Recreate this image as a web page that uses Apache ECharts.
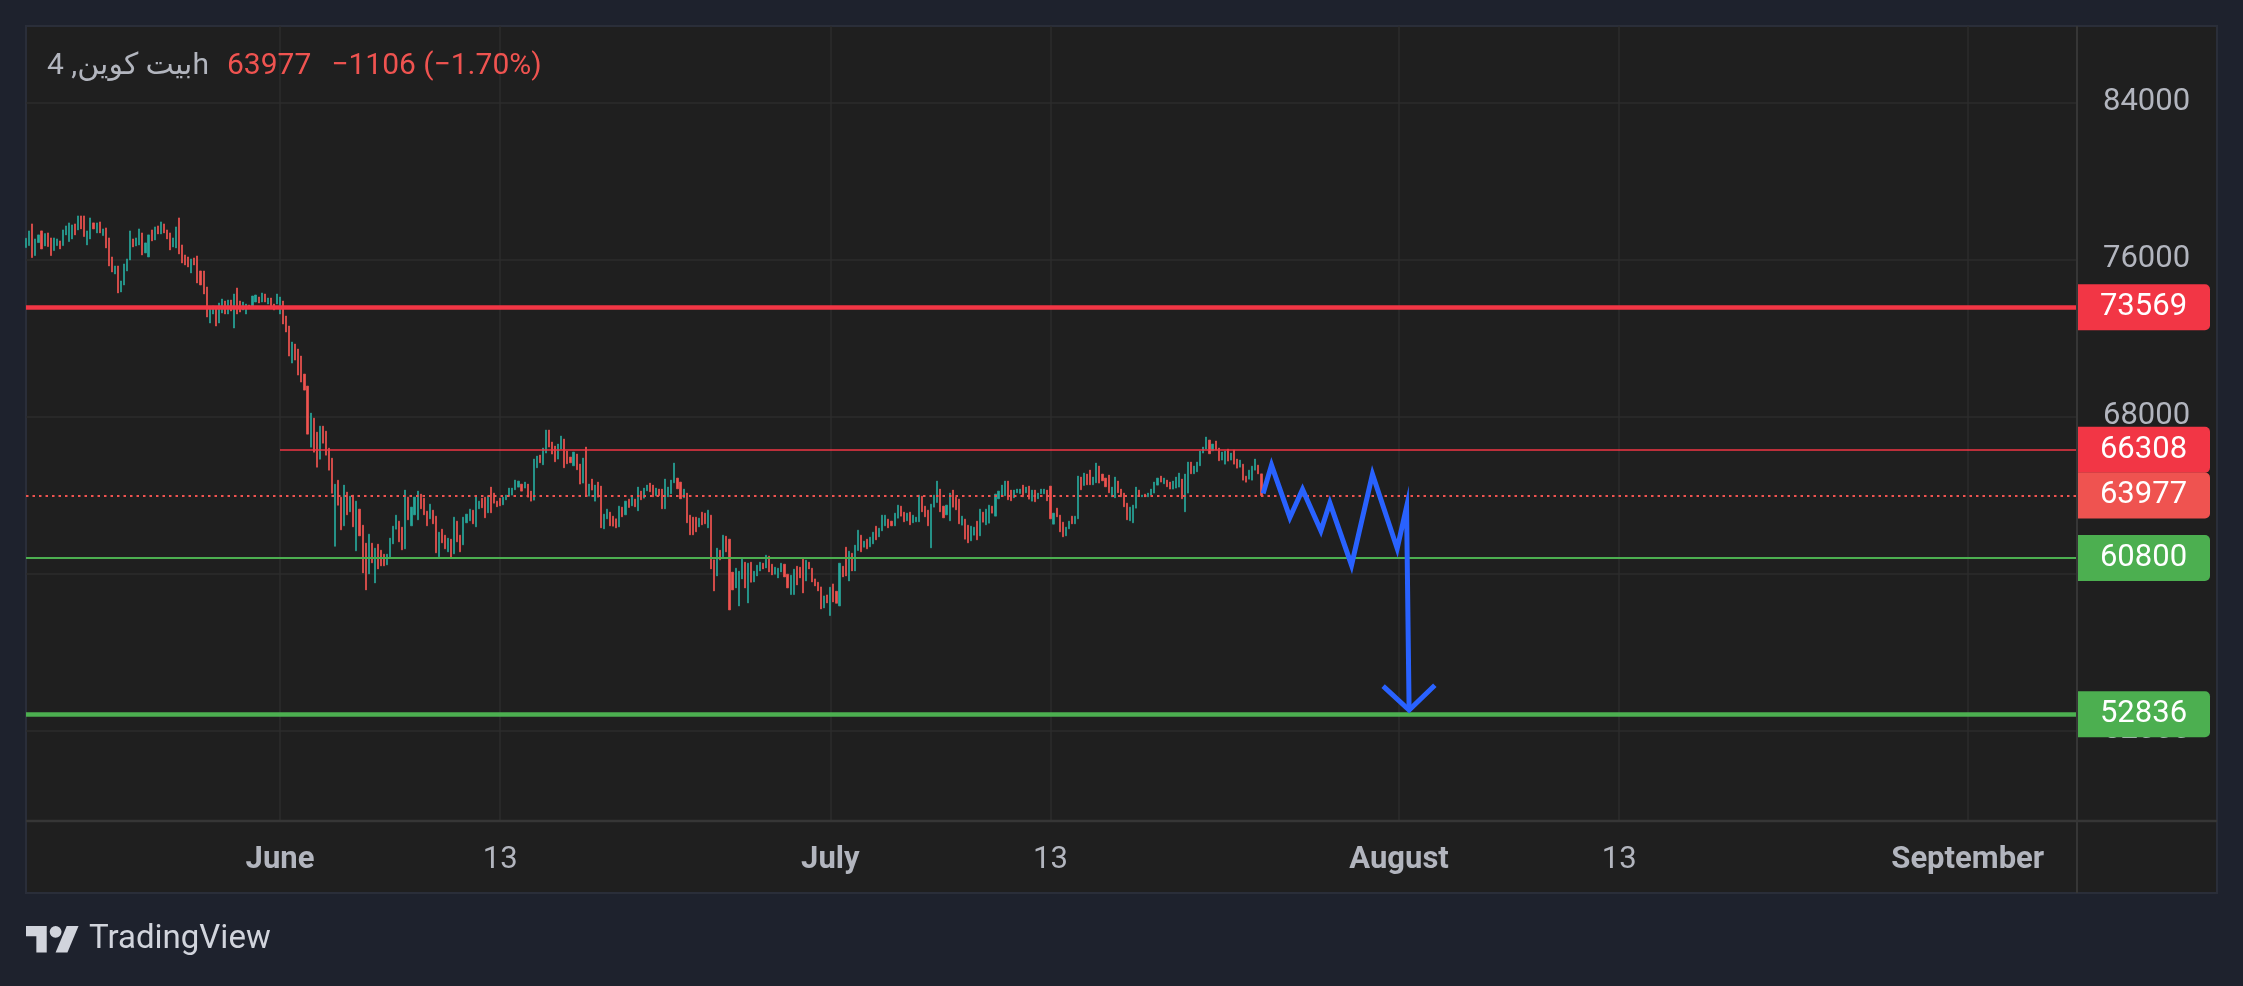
<!DOCTYPE html>
<html><head><meta charset="utf-8">
<script src="https://cdn.jsdelivr.net/npm/echarts@6/dist/echarts.min.js"></script>
<style>html,body{margin:0;padding:0;background:#1e222d;overflow:hidden}#c{width:2243px;height:986px}</style>
</head><body><div id="c"></div>
<script>
// ---------- DATA ----------
const candleStart = '2024-05-18T04:00:00Z';   // first 4h candle
const candleHours = 4;
const opens = [
76609,76711,77816,76201,76864,77459,76694,77357,77102,76456,
76711,76949,76711,77255,76915,77051,77816,77510,78224,78224,
76745,77051,77867,77357,77918,77221,77612,77102,76133,75266,
75674,74348,74705,75419,75980,77051,76694,76745,77357,76337,
76133,77510,77000,77714,77306,77816,77510,77357,76643,76592,
78122,76745,76235,76133,75317,76082,76184,75419,75419,74603,
72767,73226,73583,72767,73277,73889,73226,73940,72512,74552,
73889,73430,73226,73685,73583,73838,74093,73838,74246,73736,
74042,73736,73736,73226,73889,73124,72614,70727,71696,71441,
71084,70166,69554,66443,67922,67208,65831,67514,67259,66392,
65882,61394,64760,
63898,62436,64153,63150,64000,61161,63286,62470,61552,59988,
61552,59529,61501,61195,60991,60447,60804,61518,62266,62674,
62368,61263,63898,62436,62997,62742,64051,63847,63184,62793,
63235,62929,60855,62266,61960,61110,61756,61008,62674,61960,
61467,62589,62691,63235,62385,63303,63847,63898,63099,64408,
64102,63694,63847,63507,63762,63949,64000,64272,64408,64561,
64357,64561,64204,63745,65394,66040,65547,66142,67315,66703,
66499,65836,66346,66856,66244,65938,65496,66091,65581,64612,
66448,63949,64816,63694,64663,64459,62283,62793,63133,62929,
62793,62385,63388,62997,63796,63456,63796,63201,64204,63847,
64221,64612,
64510,63966,64306,64306,63303,63915,64068,64629,64867,64663,
63864,64102,62980,62878,62878,62385,63133,63082,62334,62980,
60702,59886,61195,60855,61909,61756,60073,59274,58356,59733,
60583,58509,60583,59580,59886,60141,60532,60294,60889,60481,
59971,59784,60090,60481,59971,58934,58934,60379,60328,60787,
59631,60583,60277,59733,59563,59325,58254,58917,57863,59478,
59104,58356,60379,61348,59631,61042,60141,61178,61960,61348,
61756,61365,61518,62419,61875,62181,62436,62776,62674,62436,
62827,63439,63133,62691,63133,62589,62640,62640,63949,63439,
63235,61314,63388,63626,64306,63439,62997,62691,64255,63898,
63796,
62470,62776,62470,61671,61960,62674,61926,63133,62487,62572,
63439,62929,63813,63932,63966,64714,64255,63864,64119,64085,
64510,64119,64459,63694,64255,63813,64068,64068,64255,64459,
62521,63337,62980,62623,61926,62283,62929,62538,62793,64918,
64493,65071,65275,64527,64629,65479,65071,64867,65020,63915,
63864,64714,64306,64102,63592,62691,62589,63337,64255,63915,
64051,63915,64000,64102,64510,64969,64578,64765,64663,64306,
64357,64408,64816,63150,64102,65683,65088,65190,65496,66142,
66346,66805,66261,66754,66397,
65783,65579,66344,65783,66293,65834,65426,65579,64967,64814,
64763,65273,65528,65083
];
const closes = [
77085,77459,76099,77051,77255,76541,77323,76660,76201,77102,
77051,76541,77510,77714,77867,77765,77255,78224,77561,77170,
77459,78122,77561,77867,77357,77561,76592,75674,75368,75674,
74297,74909,75776,76031,77459,76643,77102,77561,76235,76847,
77255,76949,77663,77306,77918,77357,77051,76490,77102,77663,
76286,75827,75725,75623,76031,75725,74807,74705,74246,73073,
73532,73634,72614,73787,73991,73226,73940,73379,74246,73226,
73328,73838,73736,73532,74144,74195,73787,74297,73838,74042,
73532,73430,74246,74093,72716,72308,71084,71798,70880,70115,
69758,69350,67106,68177,66188,65423,67514,66647,66035,65270,
64097,64556,63485,
62232,64510,62997,63949,62385,63694,61926,60039,59172,62011,
60549,61297,60243,60396,60396,60991,61807,62419,62980,61620,
61212,64255,62742,63388,63898,64204,63303,62997,62436,63541,
62538,61059,62113,61569,61263,61807,60838,62878,61620,61110,
62878,63031,63286,62538,63949,63694,63354,62844,63949,63099,
63592,63405,63456,63898,64000,64357,64357,64765,64714,64204,
64663,63898,63694,65836,65989,65649,66397,67315,66448,66091,
65700,66601,67009,65394,65598,65649,66193,65292,64561,65887,
64000,64561,64255,64510,63898,62334,63031,63286,62436,62419,
62334,63439,62895,63694,63371,63898,63405,64408,63762,64357,
64510,64170,
63915,64357,63966,63303,64816,64408,64765,65632,64323,63813,
64306,62589,61977,61977,62130,62827,62487,62538,63235,60243,
59121,61297,60702,61960,61110,58152,59172,60277,60124,60787,
59274,60532,59563,60124,60430,60583,60243,60940,60090,59937,
60328,60277,60532,59835,59274,59920,60226,59427,59784,59019,
60685,60243,59580,59376,59121,58203,58866,58509,59308,58560,
58492,60532,59835,59886,61144,60141,61450,62215,61110,61654,
61263,61858,62113,61722,62317,62980,62980,62334,62436,63082,
63490,62929,62640,63082,62487,62980,62878,63999,63150,62895,
62436,63541,63999,64714,63150,62844,63490,64102,63388,63252,
62538,
62929,61756,61569,62419,62368,61722,63286,62623,63286,63490,
63082,64051,64204,64510,64714,63762,63711,64255,64306,64306,
63915,64408,63796,64255,63660,64102,64306,64306,63711,62793,
63082,62895,62130,61875,62368,62674,62538,62929,64969,64272,
65122,64527,64527,64918,65632,64612,64731,64425,64119,64408,
64918,64119,63915,63405,62742,63388,63490,64408,63966,64000,
63915,64102,64306,64663,64867,64663,64867,64425,64306,64714,
64918,65122,63813,65071,65683,65088,65479,65683,66244,66448,
66958,66108,66601,66295,65751,
66191,66242,65732,66140,65579,65375,65783,64763,64661,65273,
65477,65834,65083,63977
];

// horizontal levels (price drawings)
const levelMajorRed   = 73569;
const levelMinorRed   = 66308;   // ray starting June 1
const levelRayStart   = '2024-06-01';
const lastPrice       = 63977;
const levelMinorGreen = 60800;
const levelMajorGreen = 52836;

// projected zig-zag drawing
const pathTimes  = ['2024-07-24T14:10:00Z','2024-07-25T01:10:00Z','2024-07-26T01:10:00Z','2024-07-26T17:45:00Z',
                    '2024-07-27T17:45:00Z','2024-07-28T05:30:00Z','2024-07-29T09:50:00Z','2024-07-30T13:15:00Z',
                    '2024-07-31T21:35:00Z','2024-08-01T09:50:00Z','2024-08-01T13:10:00Z'];
const pathPrices = [64087, 65529, 62864, 64291, 62181, 63608, 60433, 65070, 61284, 63404, 53050];
const arrowTimes  = ['2024-07-31T03:10:00Z','2024-08-01T13:10:00Z','2024-08-02T22:50:00Z'];
const arrowPrices = [54268, 53050, 54318];

// axes
const xTickDates  = ['2024-06-01','2024-06-13','2024-07-01','2024-07-13','2024-08-01','2024-08-13','2024-09-01'];
const xTickLabels = ['June','13','July','13','August','13','September'];
const xTickIsMonth = [true,false,true,false,true,false,true];
const yTickValues = [52000, 60000, 68000, 76000, 84000];
const xRange = ['2024-05-18T03:42:00Z','2024-09-06T22:57:00Z'];
const yRange = [47400, 87897];

// title
const titleSymbol = '4 ,بیت کوینh';
const titlePrice  = '63977';
const titleChange = '−1106 (−1.70%)';

// ---------- BUILD ----------
const FONT = 'Roboto, "DejaVu Sans", sans-serif';
const UP = '#26a69a', DOWN = '#ef5350', RED = '#f23645', GREEN = '#4caf50', BLUE = '#2962ff', TXT = '#b2b5be';
const t0 = Date.parse(candleStart);
const candles = opens.map((o, i) => {
  const c = closes[i];
  return [t0 + i * candleHours * 3600e3, o, c, Math.min(o, c), Math.max(o, c)];
});
const xTickMs = xTickDates.map(d => Date.parse(d + 'T00:00:00Z'));
const xMin = Date.parse(xRange[0]), xMax = Date.parse(xRange[1]);
const rayStart = Date.parse(levelRayStart + 'T00:00:00Z');

function badge(v, color) {
  return {
    show: true, position: 'end', distance: 0,
    formatter: '{a|' + v + '}',
    rich: { a: { width: 133, height: 46, lineHeight: 46, align: 'center', verticalAlign: 'middle',
                 backgroundColor: color, borderRadius: [0, 5, 5, 0], color: '#ffffff',
                 fontSize: 31, fontFamily: FONT } }
  };
}

const chart = echarts.init(document.getElementById('c'), null, { renderer: 'canvas' });
chart.setOption({
  animation: false,
  backgroundColor: 'transparent',
  grid: { left: 26, top: 26, width: 2051, height: 795, show: false },
  xAxis: {
    type: 'value', min: xMin, max: xMax, scale: true,
    axisLine: { show: false },
    axisTick: { show: false, customValues: xTickMs },
    splitLine: { show: true, lineStyle: { color: '#2c2c2c', width: 1.5 } },
    axisLabel: {
      customValues: xTickMs, margin: 24, hideOverlap: false, showMinLabel: true, showMaxLabel: true,
      formatter: function (v) {
        const i = xTickMs.indexOf(+v);
        if (i < 0) return '';
        return (xTickIsMonth[i] ? '{m|' : '{d|') + xTickLabels[i] + '}';
      },
      rich: {
        m: { fontFamily: FONT, fontSize: 31, fontWeight: 'bold', color: TXT, lineHeight: 31 },
        d: { fontFamily: FONT, fontSize: 31, fontWeight: 'normal', color: TXT, lineHeight: 31 }
      }
    }
  },
  yAxis: {
    type: 'value', position: 'right', min: yRange[0], max: yRange[1], scale: true,
    axisLine: { show: false },
    axisTick: { show: false, customValues: yTickValues },
    splitLine: { show: true, lineStyle: { color: '#2c2c2c', width: 1.5 } },
    axisLabel: { customValues: yTickValues, margin: 26, color: TXT, fontSize: 31, fontFamily: FONT,
                 formatter: v => String(v) }
  },
  series: [
    {
      type: 'candlestick', data: candles, encode: { x: 0, y: [1, 2, 3, 4] },
      barWidth: 1.6, large: false,
      itemStyle: { color: UP, color0: DOWN, borderColor: UP, borderColor0: DOWN, borderWidth: 0.7 },
      z: 2,
      markLine: {
        silent: true, animation: false, symbol: ['none', 'none'], z: 4,
        data: [
          { yAxis: levelMajorRed, lineStyle: { color: RED, width: 4.5, type: 'solid' }, label: badge(levelMajorRed, RED) },
          [ { coord: [rayStart, levelMinorRed], lineStyle: { color: RED, width: 1.6, type: 'solid' }, label: badge(levelMinorRed, RED) },
            { coord: [xMax, levelMinorRed] } ],
          { yAxis: lastPrice, lineStyle: { color: DOWN, width: 2, type: [2.5, 4] }, label: badge(lastPrice, DOWN) },
          { yAxis: levelMinorGreen, lineStyle: { color: GREEN, width: 1.8, type: 'solid' }, label: badge(levelMinorGreen, GREEN) },
          { yAxis: levelMajorGreen, lineStyle: { color: GREEN, width: 4.5, type: 'solid' }, label: badge(levelMajorGreen, GREEN) }
        ]
      }
    },
    {
      type: 'line', data: pathTimes.map((t, i) => [Date.parse(t), pathPrices[i]]),
      showSymbol: false, symbol: 'none', silent: true, z: 6,
      lineStyle: { color: BLUE, width: 5, join: 'miter', cap: 'butt' }
    },
    {
      type: 'line', data: arrowTimes.map((t, i) => [Date.parse(t), arrowPrices[i]]),
      showSymbol: false, symbol: 'none', silent: true, z: 6,
      lineStyle: { color: BLUE, width: 5, join: 'miter', cap: 'butt' }
    }
  ],
  graphic: [
    { type: 'rect', z: -100, silent: true, shape: { x: 26, y: 26, width: 2191, height: 867 },
      style: { fill: '#1f1f1f', stroke: '#2a2e39', lineWidth: 2 } },
    { type: 'line', z: 50, silent: true, shape: { x1: 2077, y1: 26, x2: 2077, y2: 893 },
      style: { stroke: '#363636', lineWidth: 2 } },
    { type: 'line', z: 50, silent: true, shape: { x1: 26, y1: 821, x2: 2217, y2: 821 },
      style: { stroke: '#363636', lineWidth: 2.5 } },
    { type: 'text', z: 60, x: 47, y: 66, silent: true,
      style: {
        text: '{g|' + titleSymbol + '}{r|' + titlePrice + '}{c|' + titleChange + '}',
        verticalAlign: 'middle',
        rich: {
          g: { fontFamily: FONT, fontSize: 30, fill: TXT, color: TXT },
          r: { fontFamily: FONT, fontSize: 30, fill: DOWN, color: DOWN, padding: [0, 0, 0, 18] },
          c: { fontFamily: FONT, fontSize: 30, fill: DOWN, color: DOWN, padding: [0, 0, 0, 20] }
        }
      } },
    { type: 'group', x: 26, y: 920, scaleX: 1.48, scaleY: 1.48, silent: true, z: 60,
      children: [
        { type: 'polygon', shape: { points: [[0,4],[14,4],[14,22],[7,22],[7,11],[0,11]] }, style: { fill: '#d1d4dc' } },
        { type: 'polygon', shape: { points: [[20,22],[27.5,4],[35.5,4],[28,22]] }, style: { fill: '#d1d4dc' } },
        { type: 'circle', shape: { cx: 20, cy: 8, r: 4 }, style: { fill: '#d1d4dc' } }
      ] },
    { type: 'text', x: 89, y: 940, z: 60, silent: true,
      style: { text: 'TradingView', fontFamily: FONT, fontSize: 33, fill: '#d1d4dc', verticalAlign: 'middle' } }
  ]
});
</script>
</body></html>
